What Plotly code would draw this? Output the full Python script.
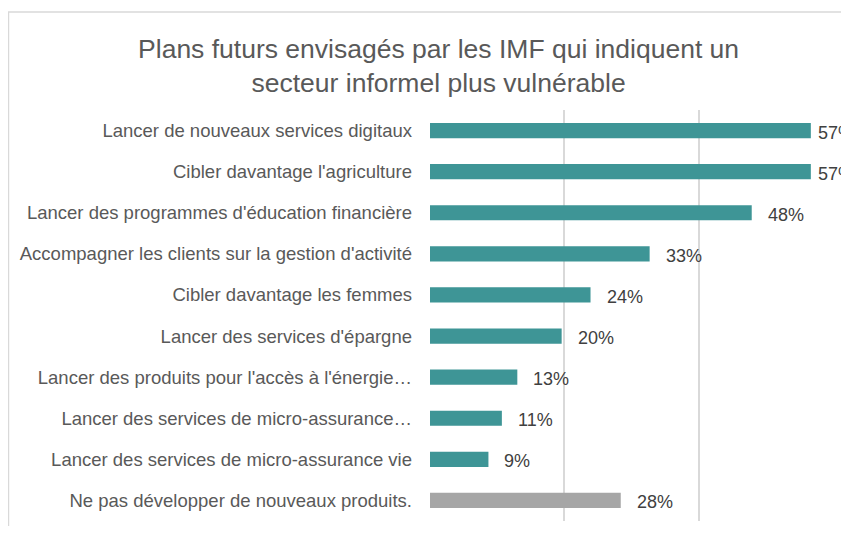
import plotly.graph_objects as go

categories = [
    "Lancer de nouveaux services digitaux",
    "Cibler davantage l'agriculture",
    "Lancer des programmes d'éducation financière",
    "Accompagner les clients sur la gestion d'activité",
    "Cibler davantage les femmes",
    "Lancer des services d'épargne",
    "Lancer des produits pour l'accès à l'énergie…",
    "Lancer des services de micro-assurance…",
    "Lancer des services de micro-assurance vie",
    "Ne pas développer de nouveaux produits.",
]
values = [56.7, 56.7, 47.9, 32.7, 23.9, 19.6, 13.0, 10.7, 8.7, 28.4]
value_labels = ["57%", "57%", "48%", "33%", "24%", "20%", "13%", "11%", "9%", "28%"]
is_other = [False] * 9 + [True]

TEAL = "#3e9596"
GREY = "#a6a6a6"
FONT = "Liberation Sans, Arial, sans-serif"
colors = [GREY if o else TEAL for o in is_other]

fig = go.Figure()
fig.add_trace(go.Bar(
    y=categories, x=values, orientation="h",
    marker=dict(color=colors, line=dict(width=0)),
    width=0.37, hoverinfo="skip", cliponaxis=False,
))

for c, v, t in zip(categories, values, value_labels):
    fig.add_annotation(
        x=v, y=c, text=t, showarrow=False, xanchor="left",
        xshift=5 if v > 55 else 14, yshift=-2,
        font=dict(family=FONT, size=18, color="#404040"),
    )

# outer chart frame
fig.add_shape(type="rect", xref="paper", yref="paper",
              x0=-1.046, x1=1.2, y0=-0.3, y1=1.2384,
              line=dict(color="#d9d9d9", width=1.5), fillcolor="rgba(0,0,0,0)", layer="below")

H = 518
fig.update_layout(
    width=841, height=H,
    margin=dict(l=422, r=16, t=102, b=5),
    paper_bgcolor="white", plot_bgcolor="white",
    showlegend=False,
    title=dict(
        text="Plans futurs envisagés par les IMF qui indiquent un<br>secteur informel plus vulnérable",
        x=0.512, xanchor="center", y=1 - 50 / H, yanchor="middle",
        font=dict(family=FONT, size=26.5, color="#595959"),
    ),
    xaxis=dict(range=[0, 60], tickvals=[0, 20, 40, 60], showticklabels=False,
               showgrid=True, gridcolor="#d9d9d9", gridwidth=1.5,
               zeroline=False, showline=False, fixedrange=True),
    yaxis=dict(autorange="reversed", showgrid=False, zeroline=False, showline=False,
               ticks="", ticklabelstandoff=17,
               tickfont=dict(family=FONT, size=18.5, color="#595959")),
)

fig.write_html("out.html")
